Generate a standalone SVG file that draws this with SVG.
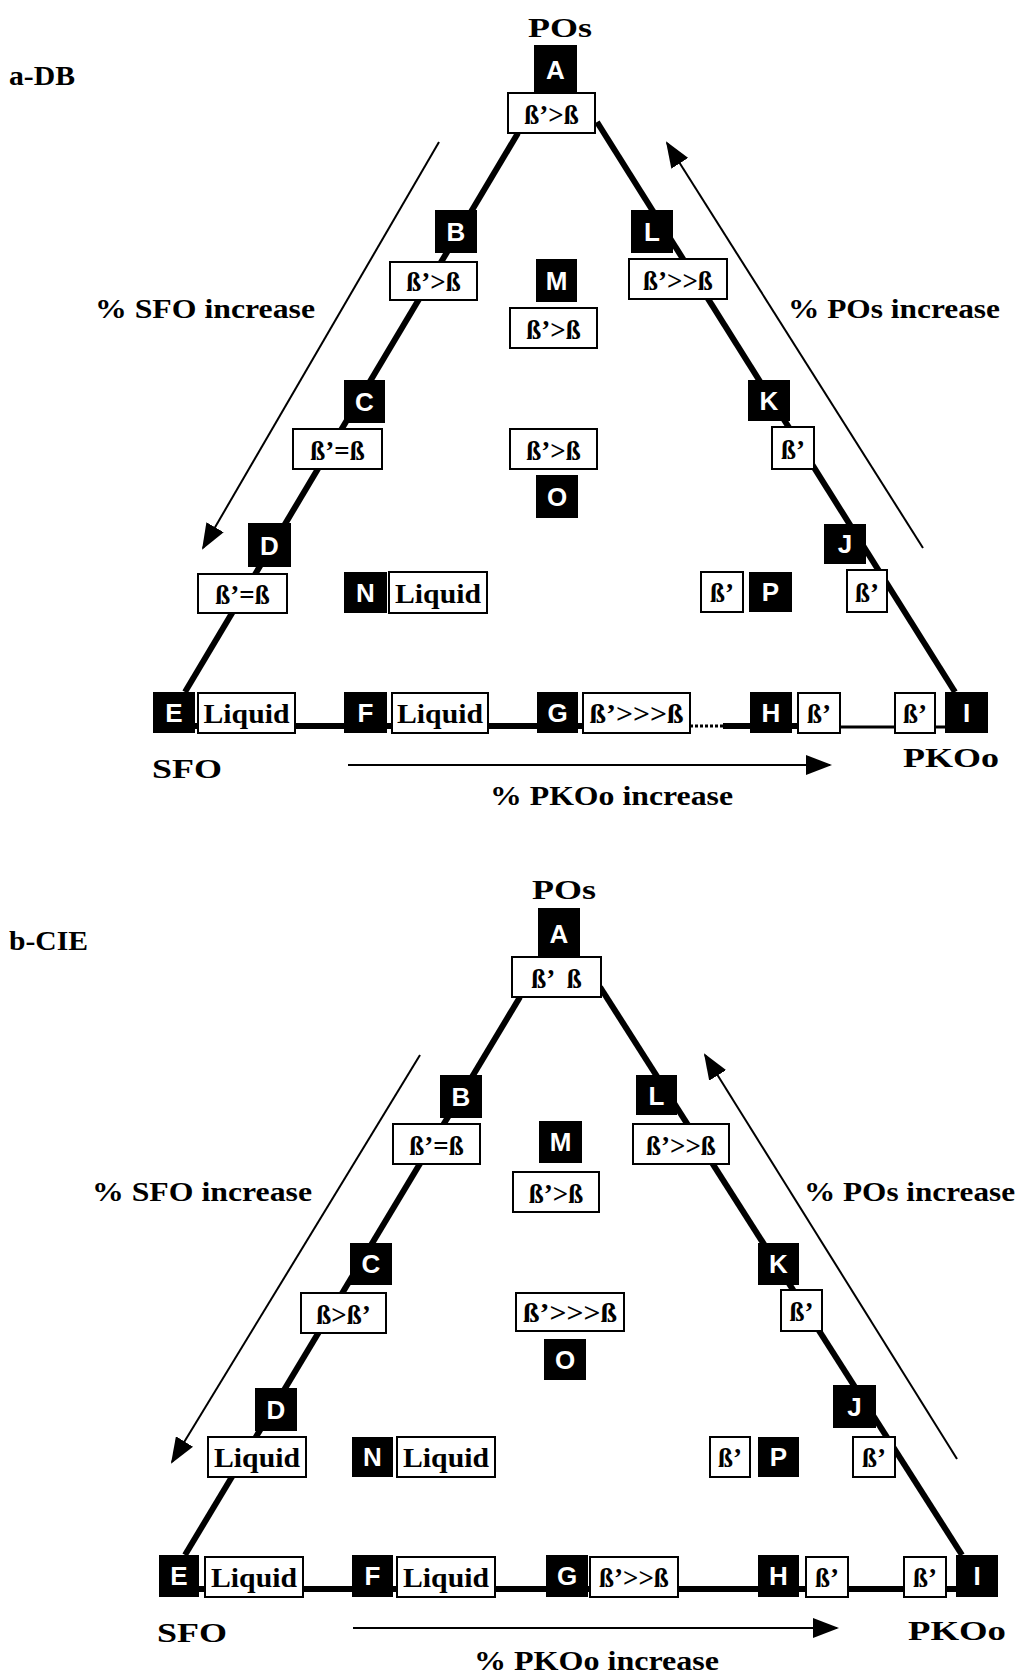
<svg xmlns="http://www.w3.org/2000/svg" width="1020" height="1675" viewBox="0 0 1020 1675">
<style>
.lb{fill:#000}
.bx{fill:#fff;stroke:#000;stroke-width:2}
.lt{font-family:"Liberation Sans",Arial,sans-serif;font-weight:bold;font-size:26px;fill:#fff;text-anchor:middle}
.tx{font-family:"Liberation Serif","Times New Roman",serif;font-weight:bold;font-size:27px;fill:#000;text-anchor:middle}
.hd{font-family:"Liberation Serif","Times New Roman",serif;font-weight:bold;font-size:28px;fill:#000}
.edge{stroke:#000;stroke-width:6;fill:none;stroke-linecap:butt}
.arr{stroke:#000;stroke-width:2;fill:none}
</style>
<defs>
<marker id="ah" markerUnits="userSpaceOnUse" markerWidth="26" markerHeight="20" refX="24" refY="10" orient="auto">
<path d="M0,0 L26,10 L0,20 z" fill="#000"/>
</marker>
</defs>
<rect width="1020" height="1675" fill="#fff"/>

<!-- Panel a -->
<g id="a-titles">
<text class="hd" x="9" y="85" textLength="66" lengthAdjust="spacingAndGlyphs" font-size="26">a-DB</text>
<text class="hd" x="528" y="37" textLength="64" lengthAdjust="spacingAndGlyphs" font-size="30">POs</text>
<text class="hd" x="95" y="318" textLength="220" lengthAdjust="spacingAndGlyphs">% SFO increase</text>
<text class="hd" x="788" y="318" textLength="212" lengthAdjust="spacingAndGlyphs">% POs increase</text>
<text class="hd" x="152" y="778" textLength="70" lengthAdjust="spacingAndGlyphs" font-size="30">SFO</text>
<text class="hd" x="903" y="767" textLength="96" lengthAdjust="spacingAndGlyphs" font-size="30">PKOo</text>
<text class="hd" x="490" y="805" textLength="243" lengthAdjust="spacingAndGlyphs">% PKOo increase</text>
</g>
<g id="a-connectors">
<line class="edge" x1="518" y1="133" x2="185" y2="692"/>
<line class="edge" x1="597" y1="122" x2="955" y2="692"/>
<line class="edge" x1="195" y1="726" x2="690" y2="726"/>
<line x1="690" y1="726" x2="723" y2="726" stroke="#000" stroke-width="3" stroke-dasharray="3,2"/>
<line class="edge" x1="723" y1="726" x2="840" y2="726"/>
<line x1="840" y1="727" x2="945" y2="727" stroke="#000" stroke-width="3"/>
<line class="arr" x1="439" y1="142" x2="203" y2="548" marker-end="url(#ah)"/>
<line class="arr" x1="923" y1="548" x2="667" y2="143" marker-end="url(#ah)"/>
<line class="arr" x1="348" y1="765" x2="830" y2="765" stroke-width="3" marker-end="url(#ah)"/>
</g>
<g id="a-A"><rect class="lb" x="534" y="45" width="43" height="47"/><text class="lt" x="555.5" y="79">A</text>
<rect class="bx" x="508" y="93" width="87" height="40"/><text class="tx" x="551.5" y="124">ß’&gt;ß</text></g>
<g id="a-B"><rect class="lb" x="435" y="210" width="42" height="43"/><text class="lt" x="456" y="241">B</text>
<rect class="bx" x="390" y="262" width="87" height="38"/><text class="tx" x="433.5" y="291">ß’&gt;ß</text></g>
<g id="a-L"><rect class="lb" x="631" y="210" width="42" height="43"/><text class="lt" x="652" y="241">L</text>
<rect class="bx" x="629" y="259" width="98" height="40"/><text class="tx" x="678" y="290">ß’&gt;&gt;ß</text></g>
<g id="a-M"><rect class="lb" x="536" y="259" width="41" height="43"/><text class="lt" x="556.5" y="290">M</text>
<rect class="bx" x="510" y="308" width="87" height="40"/><text class="tx" x="553.5" y="339">ß’&gt;ß</text></g>
<g id="a-C"><rect class="lb" x="344" y="380" width="41" height="43"/><text class="lt" x="364.5" y="411">C</text>
<rect class="bx" x="293" y="429" width="89" height="40"/><text class="tx" x="337.5" y="460">ß’=ß</text></g>
<g id="a-K"><rect class="lb" x="748" y="380" width="42" height="41"/><text class="lt" x="769" y="410">K</text>
<rect class="bx" x="772" y="427" width="42" height="42"/><text class="tx" x="793" y="459">ß’</text></g>
<g id="a-O"><rect class="bx" x="510" y="429" width="87" height="40"/><text class="tx" x="553.5" y="460">ß’&gt;ß</text>
<rect class="lb" x="536" y="475" width="42" height="43"/><text class="lt" x="557" y="506">O</text></g>
<g id="a-D"><rect class="lb" x="248" y="523" width="43" height="44"/><text class="lt" x="269.5" y="555">D</text>
<rect class="bx" x="198" y="574" width="89" height="39"/><text class="tx" x="242.5" y="604">ß’=ß</text></g>
<g id="a-J"><rect class="lb" x="824" y="524" width="42" height="40"/><text class="lt" x="845" y="553">J</text>
<rect class="bx" x="847" y="570" width="40" height="42"/><text class="tx" x="867" y="602">ß’</text></g>
<g id="a-N"><rect class="lb" x="344" y="572" width="43" height="41"/><text class="lt" x="365.5" y="602">N</text>
<rect class="bx" x="389" y="572" width="98" height="41"/><text class="tx" x="438" y="603" textLength="86" lengthAdjust="spacingAndGlyphs">Liquid</text></g>
<g id="a-P"><rect class="bx" x="701" y="572" width="42" height="40"/><text class="tx" x="722" y="602">ß’</text>
<rect class="lb" x="749" y="572" width="43" height="40"/><text class="lt" x="770.5" y="601">P</text></g>
<g id="a-E"><rect class="lb" x="153" y="692" width="42" height="41"/><text class="lt" x="174" y="722">E</text>
<rect class="bx" x="198" y="693" width="97" height="40"/><text class="tx" x="246.5" y="723" textLength="86" lengthAdjust="spacingAndGlyphs">Liquid</text></g>
<g id="a-F"><rect class="lb" x="344" y="692" width="43" height="41"/><text class="lt" x="365.5" y="722">F</text>
<rect class="bx" x="392" y="693" width="96" height="40"/><text class="tx" x="440" y="723" textLength="86" lengthAdjust="spacingAndGlyphs">Liquid</text></g>
<g id="a-G"><rect class="lb" x="537" y="692" width="41" height="41"/><text class="lt" x="557.5" y="722">G</text>
<rect class="bx" x="583" y="693" width="107" height="40"/><text class="tx" x="636.5" y="723" textLength="94" lengthAdjust="spacingAndGlyphs">ß’&gt;&gt;&gt;ß</text></g>
<g id="a-H"><rect class="lb" x="750" y="692" width="42" height="41"/><text class="lt" x="771" y="722">H</text>
<rect class="bx" x="798" y="693" width="42" height="40"/><text class="tx" x="819" y="723">ß’</text></g>
<g id="a-I"><rect class="bx" x="895" y="693" width="40" height="40"/><text class="tx" x="915" y="723">ß’</text>
<rect class="lb" x="945" y="692" width="43" height="41"/><text class="lt" x="966.5" y="722">I</text></g>

<!-- Panel b -->
<g id="b-titles">
<text class="hd" x="9" y="950" textLength="79" lengthAdjust="spacingAndGlyphs" font-size="26">b-CIE</text>
<text class="hd" x="532" y="899" textLength="64" lengthAdjust="spacingAndGlyphs" font-size="30">POs</text>
<text class="hd" x="92" y="1201" textLength="220" lengthAdjust="spacingAndGlyphs">% SFO increase</text>
<text class="hd" x="804" y="1201" textLength="211" lengthAdjust="spacingAndGlyphs">% POs increase</text>
<text class="hd" x="157" y="1642" textLength="70" lengthAdjust="spacingAndGlyphs" font-size="30">SFO</text>
<text class="hd" x="908" y="1640" textLength="98" lengthAdjust="spacingAndGlyphs" font-size="30">PKOo</text>
<text class="hd" x="474" y="1670" textLength="245" lengthAdjust="spacingAndGlyphs">% PKOo increase</text>
</g>
<g id="b-connectors">
<line class="edge" x1="520" y1="997" x2="185" y2="1555"/>
<line class="edge" x1="600" y1="987" x2="962" y2="1555"/>
<line class="edge" x1="199" y1="1589" x2="956" y2="1589"/>
<line class="arr" x1="420" y1="1055" x2="172" y2="1462" marker-end="url(#ah)"/>
<line class="arr" x1="957" y1="1459" x2="705" y2="1055" marker-end="url(#ah)"/>
<line class="arr" x1="353" y1="1628" x2="837" y2="1628" stroke-width="3" marker-end="url(#ah)"/>
</g>
<g id="b-A"><rect class="lb" x="538" y="908" width="42" height="49"/><text class="lt" x="559" y="943">A</text>
<rect class="bx" x="512" y="957" width="89" height="40"/><text class="tx" x="556.5" y="988" xml:space="preserve">ß’  ß</text></g>
<g id="b-B"><rect class="lb" x="440" y="1075" width="42" height="43"/><text class="lt" x="461" y="1106">B</text>
<rect class="bx" x="393" y="1124" width="87" height="40"/><text class="tx" x="436.5" y="1155">ß’=ß</text></g>
<g id="b-L"><rect class="lb" x="636" y="1075" width="41" height="40"/><text class="lt" x="656.5" y="1105">L</text>
<rect class="bx" x="633" y="1124" width="96" height="40"/><text class="tx" x="681" y="1155">ß’&gt;&gt;ß</text></g>
<g id="b-M"><rect class="lb" x="539" y="1121" width="43" height="42"/><text class="lt" x="560.5" y="1151">M</text>
<rect class="bx" x="513" y="1172" width="86" height="40"/><text class="tx" x="556" y="1203">ß’&gt;ß</text></g>
<g id="b-C"><rect class="lb" x="350" y="1243" width="42" height="42"/><text class="lt" x="371" y="1273">C</text>
<rect class="bx" x="301" y="1293" width="85" height="40"/><text class="tx" x="343.5" y="1324">ß&gt;ß’</text></g>
<g id="b-K"><rect class="lb" x="758" y="1243" width="41" height="42"/><text class="lt" x="778.5" y="1273">K</text>
<rect class="bx" x="781" y="1290" width="41" height="41"/><text class="tx" x="801.5" y="1321">ß’</text></g>
<g id="b-O"><rect class="bx" x="516" y="1293" width="108" height="38"/><text class="tx" x="570" y="1322" textLength="94" lengthAdjust="spacingAndGlyphs">ß’&gt;&gt;&gt;ß</text>
<rect class="lb" x="544" y="1339" width="42" height="41"/><text class="lt" x="565" y="1369">O</text></g>
<g id="b-D"><rect class="lb" x="255" y="1388" width="42" height="43"/><text class="lt" x="276" y="1419">D</text>
<rect class="bx" x="208" y="1437" width="98" height="40"/><text class="tx" x="257" y="1467" textLength="86" lengthAdjust="spacingAndGlyphs">Liquid</text></g>
<g id="b-J"><rect class="lb" x="833" y="1385" width="43" height="43"/><text class="lt" x="854.5" y="1416">J</text>
<rect class="bx" x="853" y="1437" width="42" height="40"/><text class="tx" x="874" y="1467">ß’</text></g>
<g id="b-N"><rect class="lb" x="352" y="1437" width="41" height="40"/><text class="lt" x="372.5" y="1466">N</text>
<rect class="bx" x="397" y="1437" width="98" height="40"/><text class="tx" x="446" y="1467" textLength="86" lengthAdjust="spacingAndGlyphs">Liquid</text></g>
<g id="b-P"><rect class="bx" x="710" y="1437" width="40" height="40"/><text class="tx" x="730" y="1467">ß’</text>
<rect class="lb" x="758" y="1437" width="41" height="40"/><text class="lt" x="778.5" y="1466">P</text></g>
<g id="b-E"><rect class="lb" x="159" y="1555" width="40" height="42"/><text class="lt" x="179" y="1585">E</text>
<rect class="bx" x="205" y="1557" width="98" height="40"/><text class="tx" x="254" y="1587" textLength="86" lengthAdjust="spacingAndGlyphs">Liquid</text></g>
<g id="b-F"><rect class="lb" x="352" y="1555" width="41" height="42"/><text class="lt" x="372.5" y="1585">F</text>
<rect class="bx" x="397" y="1557" width="98" height="40"/><text class="tx" x="446" y="1587" textLength="86" lengthAdjust="spacingAndGlyphs">Liquid</text></g>
<g id="b-G"><rect class="lb" x="546" y="1555" width="42" height="42"/><text class="lt" x="567" y="1585">G</text>
<rect class="bx" x="590" y="1557" width="88" height="40"/><text class="tx" x="634" y="1587">ß’&gt;&gt;ß</text></g>
<g id="b-H"><rect class="lb" x="758" y="1555" width="41" height="42"/><text class="lt" x="778.5" y="1585">H</text>
<rect class="bx" x="806" y="1557" width="42" height="40"/><text class="tx" x="827" y="1587">ß’</text></g>
<g id="b-I"><rect class="bx" x="904" y="1557" width="42" height="40"/><text class="tx" x="925" y="1587">ß’</text>
<rect class="lb" x="956" y="1555" width="42" height="42"/><text class="lt" x="977" y="1585">I</text></g>
</svg>
